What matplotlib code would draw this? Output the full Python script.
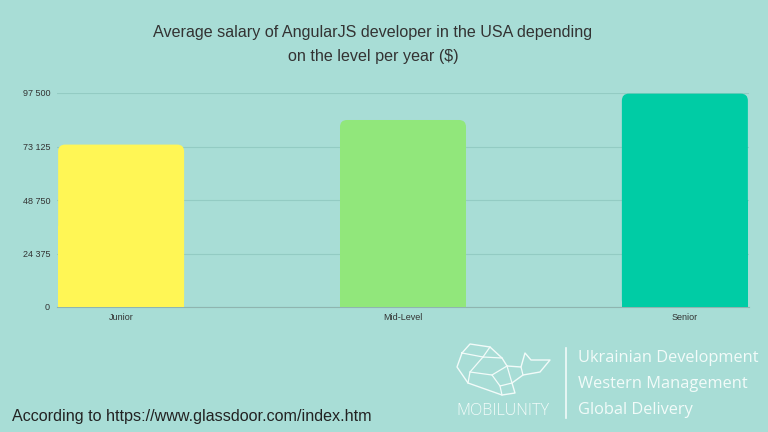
import matplotlib
matplotlib.use("Agg")
import matplotlib.pyplot as plt
from matplotlib.patches import FancyBboxPatch, Rectangle
from matplotlib.lines import Line2D

categories = ["Junior", "Mid-Level", "Senior"]
salaries = [74000, 85200, 97200]
bar_colors = ["#FFF655", "#91E77B", "#00CCA5"]
yticks = [0, 24375, 48750, 73125, 97500]
ytick_labels = ["0", "24 375", "48 750", "73 125", "97 500"]
title = "Average salary of AngularJS developer in the USA depending\non the level per year ($)"
source = "According to https://www.glassdoor.com/index.htm"
tagline = ["Ukrainian Development", "Western Management", "Global Delivery"]

BG = "#A8DDD6"
W, H = 768, 432
fig = plt.figure(figsize=(7.68, 4.32), dpi=100, facecolor=BG)
ax = fig.add_axes([57 / W, 1 - 307 / H, (749 - 57) / W, (307 - 93) / H])
ax.set_facecolor(BG)

x = list(range(len(categories)))
bw = 0.447
bars = ax.bar(x, salaries, width=bw, color=bar_colors, zorder=3)
ax.set_xlim(-bw / 2 - 0.004, len(categories) - 1 + bw / 2 + 0.004)
ax.set_ylim(0, yticks[-1])

# rounded tops
fig.canvas.draw()
p0 = ax.transData.transform((0, 0))
p1 = ax.transData.transform((1, 1))
px_per_x = p1[0] - p0[0]
px_per_y = p1[1] - p0[1]
r_px = 7
rx = r_px / px_per_x
ry = r_px / px_per_y
for b in bars:
    b.set_visible(False)
    bx, by, bwid, bh = b.get_x(), b.get_y(), b.get_width(), b.get_height()
    fb = FancyBboxPatch((bx, by), bwid, bh,
                        boxstyle=f"round,pad=0,rounding_size={rx}",
                        mutation_aspect=ry / rx, facecolor=b.get_facecolor(),
                        edgecolor="none", zorder=3)
    ax.add_patch(fb)
    ax.add_patch(Rectangle((bx, by), bwid, bh / 2, facecolor=b.get_facecolor(),
                           edgecolor="none", zorder=3))

ax.set_yticks(yticks)
ax.set_yticklabels(ytick_labels)
ax.set_xticks(x)
ax.set_xticklabels(categories)
ax.tick_params(axis="both", length=0, labelsize=6.5, colors="#333333")
ax.tick_params(axis="y", pad=5)
ax.tick_params(axis="x", pad=4)
for lab in ax.get_xticklabels() + ax.get_yticklabels():
    lab.set_fontfamily("Liberation Sans")
ax.grid(axis="y", color="#93CBC3", linewidth=0.8, zorder=0)
for s in ["top", "right", "left"]:
    ax.spines[s].set_visible(False)
ax.spines["bottom"].set_color("#8FB5B0")
ax.spines["bottom"].set_linewidth(0.8)

fig.text(373 / W, 1 - 44.5 / H, title, ha="center", va="center", fontsize=11.6,
         family="Liberation Sans", color="#333333", linespacing=1.7)
fig.text(12 / W, 1 - 416 / H, source, ha="left", va="center", fontsize=11.6,
         family="Liberation Sans", color="#222222")

# logo area (pixel coordinates)
def P(px, py):
    return (px / W, 1 - py / H)

lc = "#F2FBF9"
outline = [(462, 353), (470, 344), (490, 347), (502, 358), (507, 366), (521, 367),
           (525, 353), (531, 360), (550, 360), (540, 372), (523, 375), (512, 383),
           (515, 393), (502, 395), (468, 383), (457, 367), (462, 353)]
xs, ys = zip(*[P(a, b) for a, b in outline])
fig.add_artist(Line2D(xs, ys, color=lc, lw=1.0))
inner = [
    [(462, 353), (483, 357), (502, 358)],
    [(483, 357), (470, 372), (468, 383)],
    [(470, 372), (492, 375), (507, 366)],
    [(492, 375), (500, 386), (512, 383)],
    [(500, 386), (502, 395)],
    [(507, 366), (512, 383)],
    [(521, 367), (523, 375)],
    [(490, 347), (483, 357)],
]
for seg in inner:
    xs, ys = zip(*[P(a, b) for a, b in seg])
    fig.add_artist(Line2D(xs, ys, color=lc, lw=0.9))

fig.text(503 / W, 1 - 411 / H, "MOBILUNITY", ha="center", va="center", fontsize=11.6,
         family="Open Sans", color=lc, fontweight="light")
fig.add_artist(Line2D([566 / W, 566 / W], [1 - 348 / H, 1 - 418 / H], color=lc, lw=1.2))
for i, t in enumerate(tagline):
    fig.text(578 / W, 1 - (358.5 + 26 * i) / H, t, ha="left", va="center", fontsize=11.8,
             family="Open Sans", color=lc)

fig.savefig("out.png", dpi=100, facecolor=BG)
